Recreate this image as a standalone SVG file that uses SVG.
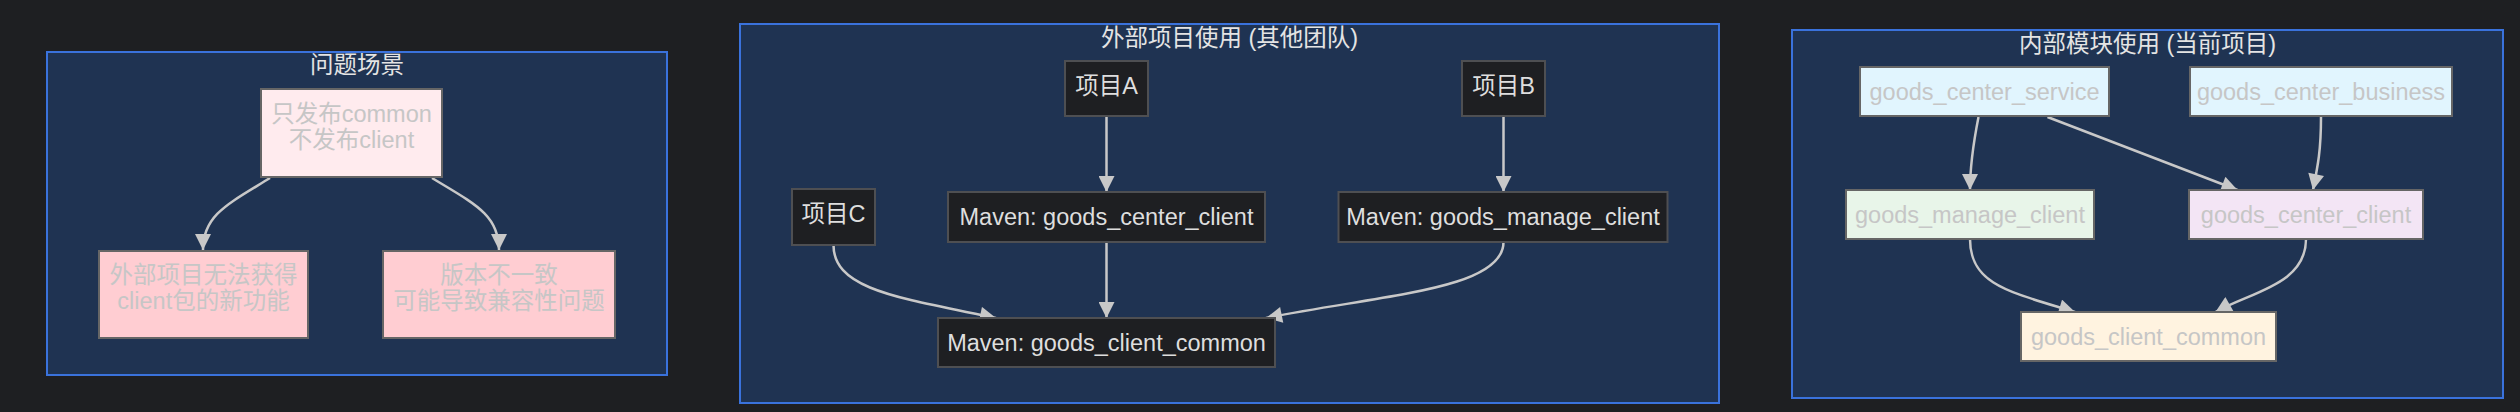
<svg xmlns="http://www.w3.org/2000/svg" width="2520" height="412" viewBox="0 0 2520 412">
<defs>
<style>
.bg{fill:#1e1f22}
.cluster{fill:#1f3352;stroke:#3a72dc;stroke-width:2}
.ctitle{fill:#e4e4e4;font-family:"Liberation Sans","Noto Sans CJK SC",sans-serif;font-size:23.5px;text-anchor:middle;dominant-baseline:central}
.dark rect{fill:#1e1f22;stroke:#4e4f52;stroke-width:2}
.dark text{fill:#dedede}
.light rect{stroke:#666;stroke-width:2}
.light text{fill:#c6c6c6}
text{font-family:"Liberation Sans","Noto Sans CJK SC",sans-serif;font-size:23.5px;text-anchor:middle;dominant-baseline:central}
.edge{fill:none;stroke:#c8c8c8;stroke-width:2.5;marker-end:url(#arrow)}
</style>
<marker id="arrow" viewBox="0 0 10 10" refX="10" refY="5" markerUnits="userSpaceOnUse" markerWidth="17" markerHeight="16" orient="auto">
<path d="M0,0 L10,5 L0,10 z" fill="#c8c8c8"/>
</marker>
</defs>
<rect class="bg" x="0" y="0" width="2520" height="412"/>

<g id="cluster-problem">
<rect class="cluster" x="47" y="52" width="620" height="323"/>
<text class="ctitle" x="357" y="65">问题场景</text>
</g>
<g id="cluster-external">
<rect class="cluster" x="740" y="24" width="979" height="379"/>
<text class="ctitle" x="1229.5" y="38">外部项目使用 (其他团队)</text>
</g>
<g id="cluster-internal">
<rect class="cluster" x="1792" y="30" width="711" height="368"/>
<text class="ctitle" x="2147.5" y="44">内部模块使用 (当前项目)</text>
</g>

<g id="edges">
<path class="edge" d="M270,178 C228,204 203,215 203,250"/>
<path class="edge" d="M432,178 C475,204 499,215 499,250"/>
<path class="edge" d="M1106.5,117 L1106.5,192"/>
<path class="edge" d="M1503.5,117 L1503.5,192"/>
<path class="edge" d="M1106.5,242 L1106.5,318"/>
<path class="edge" d="M833.5,245 C833.5,290 900,298 996,318"/>
<path class="edge" d="M1503.5,242 C1503.5,290 1380,295 1266,318"/>
<path class="edge" d="M1978.5,117 C1972,150 1970,170 1970,190"/>
<path class="edge" d="M2047.5,117 L2237.5,190"/>
<path class="edge" d="M2321,117 C2321,150 2318,165 2313,190"/>
<path class="edge" d="M1970,239 C1970,285 2010,292 2075,312"/>
<path class="edge" d="M2306,239 C2306,285 2250,292 2215.5,312"/>
</g>

<g id="node-publish" class="light">
<rect x="261" y="89" width="181" height="88" fill="#ffebee"/>
<text x="351.5" y="114">只发布common</text>
<text x="351.5" y="139.5">不发布client</text>
</g>
<g id="node-nofeature" class="light">
<rect x="99" y="251" width="209" height="87" fill="#ffcdd2"/>
<text x="203.5" y="275">外部项目无法获得</text>
<text x="203.5" y="301">client包的新功能</text>
</g>
<g id="node-version" class="light">
<rect x="383" y="251" width="232" height="87" fill="#ffcdd2"/>
<text x="499" y="275">版本不一致</text>
<text x="499" y="301">可能导致兼容性问题</text>
</g>

<g id="node-projA" class="dark">
<rect x="1065" y="61" width="83" height="55"/>
<text x="1106.5" y="86">项目A</text>
</g>
<g id="node-projB" class="dark">
<rect x="1462" y="61" width="83" height="55"/>
<text x="1503.5" y="86">项目B</text>
</g>
<g id="node-projC" class="dark">
<rect x="792" y="189" width="83" height="56"/>
<text x="833.5" y="214">项目C</text>
</g>
<g id="node-mvn-center-client" class="dark">
<rect x="948" y="192" width="317" height="50"/>
<text x="1106.5" y="217">Maven: goods_center_client</text>
</g>
<g id="node-mvn-manage-client" class="dark">
<rect x="1338.5" y="192" width="329" height="50"/>
<text x="1503" y="217">Maven: goods_manage_client</text>
</g>
<g id="node-mvn-client-common" class="dark">
<rect x="938" y="318" width="337" height="49"/>
<text x="1106.5" y="342.5">Maven: goods_client_common</text>
</g>

<g id="node-center-service" class="light">
<rect x="1860" y="67" width="249" height="49" fill="#e1f5fe"/>
<text x="1984.5" y="91.5">goods_center_service</text>
</g>
<g id="node-center-business" class="light">
<rect x="2190" y="67" width="262" height="49" fill="#e1f5fe"/>
<text x="2321" y="91.5">goods_center_business</text>
</g>
<g id="node-manage-client" class="light">
<rect x="1846" y="190" width="248" height="49" fill="#e8f5e9"/>
<text x="1970" y="214.5">goods_manage_client</text>
</g>
<g id="node-center-client" class="light">
<rect x="2189" y="190" width="234" height="49" fill="#f3e5f5"/>
<text x="2306" y="214.5">goods_center_client</text>
</g>
<g id="node-client-common" class="light">
<rect x="2021" y="312" width="255" height="49" fill="#fff3e0"/>
<text x="2148.5" y="336.5">goods_client_common</text>
</g>
</svg>
